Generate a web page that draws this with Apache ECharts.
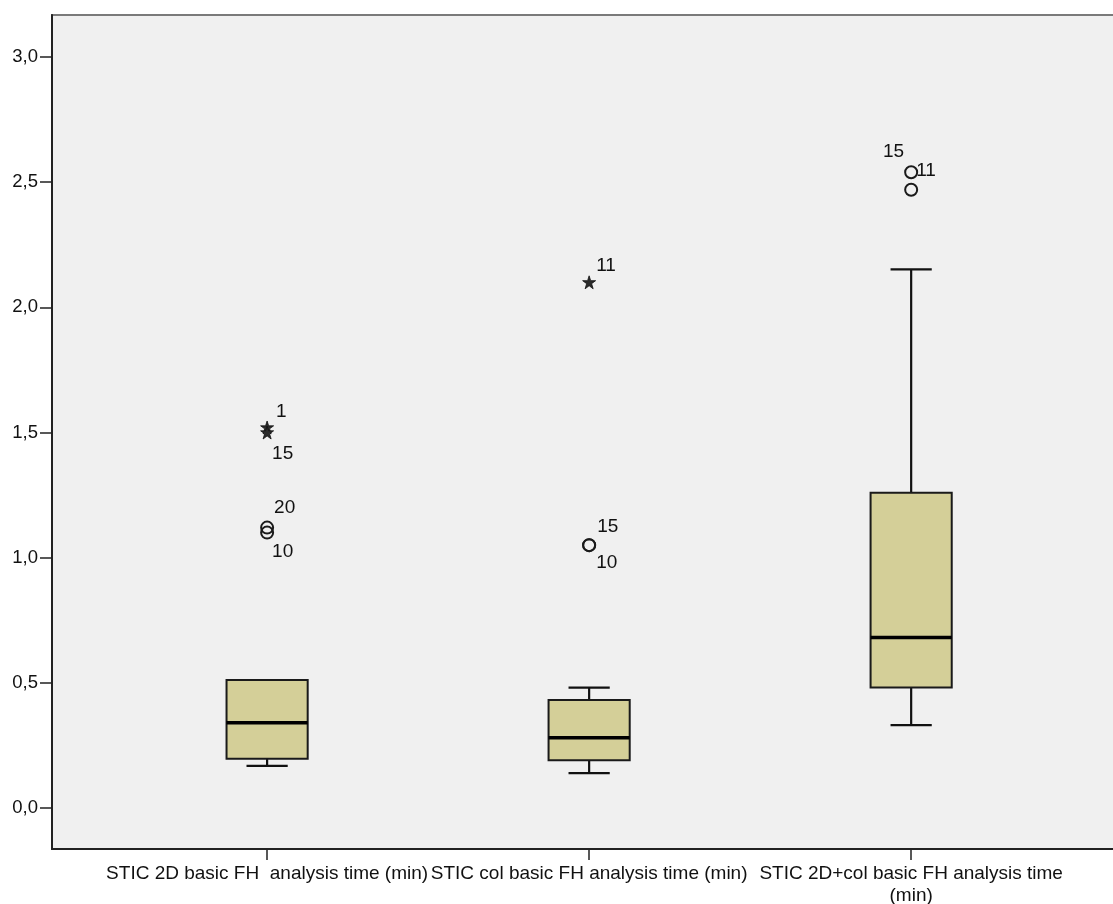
<!DOCTYPE html>
<html>
<head>
<meta charset="utf-8">
<script src="https://cdn.jsdelivr.net/npm/echarts@6/dist/echarts.min.js"></script>
<style>
html,body{margin:0;padding:0;background:#fff;}
#chart{width:1113px;height:904px;}
</style>
</head>
<body>
<div id="chart"></div>
<script>
// ---- data ----
const categories = [
  'STIC 2D basic FH  analysis time (min)',
  'STIC col basic FH analysis time (min)',
  'STIC 2D+col basic FH analysis time\n(min)'
];
const categoryPos = [1, 2, 3];
const whiskerLow  = [0.168, 0.139, 0.331];
const q1          = [0.197, 0.191, 0.481];
const median      = [0.340, 0.280, 0.681];
const q3          = [0.511, 0.431, 1.259];
const whiskerHigh = [0.511, 0.481, 2.152];

// outliers (circles)
const outlierCat   = [1, 1, 2, 2, 3, 3];
const outlierValue = [1.12, 1.10, 1.05, 1.05, 2.54, 2.47];
const outlierCase  = ['20', '10', '15', '10', '15', '11'];
// extremes (stars)
const extremeCat   = [1, 1, 2];
const extremeValue = [1.52, 1.50, 2.10];
const extremeCase  = ['1', '15', '11'];

const yTicks = [0, 0.5, 1.0, 1.5, 2.0, 2.5, 3.0];

// ---- label placement (layout only) ----
const outlierLabelPlace = [
  {dx: 7, dy: -20, align: 'left'},
  {dx: 5, dy: 19, align: 'left'},
  {dx: 8, dy: -18, align: 'left'},
  {dx: 7, dy: 18, align: 'left'},
  {dx: -7, dy: -20, align: 'right'},
  {dx: 5, dy: -19, align: 'left'}
];
const extremeLabelPlace = [
  {dx: 9, dy: -16, align: 'left'},
  {dx: 5, dy: 21, align: 'left'},
  {dx: 7, dy: -17, align: 'left'}
];

const FONT = 'Liberation Sans, Arial, sans-serif';
const FS = 19;

const boxData = categoryPos.map((c, i) => [c, whiskerLow[i], q1[i], median[i], q3[i], whiskerHigh[i]]);

const starPath = 'path://M50,0 L61.8,35.4 L100,35.4 L69.1,57.3 L80.9,95.1 L50,72.4 L19.1,95.1 L30.9,57.3 L0,35.4 L38.2,35.4 Z';

function labelItem(v, c, text, place) {
  return {
    value: [c, v],
    label: {
      show: true,
      formatter: text,
      position: 'inside',
      align: place.align,
      verticalAlign: 'middle',
      offset: [place.dx, place.dy],
      color: '#111',
      fontSize: FS,
      fontFamily: FONT
    }
  };
}

const chart = echarts.init(document.getElementById('chart'), null, {renderer: 'canvas'});
chart.setOption({
  animation: false,
  backgroundColor: '#ffffff',
  grid: {
    left: 52, top: 15, right: -2, bottom: 55,
    outerBoundsMode: 'none',
    containLabel: false,
    show: true,
    backgroundColor: '#F0F0F0',
    borderColor: '#7a7a7a',
    borderWidth: 2
  },
  xAxis: {
    type: 'value',
    min: 0.332, max: 3.633,
    splitLine: {show: false},
    axisLine: {show: true, onZero: false, lineStyle: {color: '#222', width: 2}},
    axisTick: {show: true, length: 11, customValues: categoryPos, lineStyle: {color: '#222', width: 1.5}},
    axisLabel: {
      customValues: categoryPos,
      formatter: v => categories[Math.round(v) - 1] || '',
      margin: 14,
      color: '#111',
      fontSize: FS,
      fontFamily: FONT,
      lineHeight: 22,
      align: 'center'
    }
  },
  yAxis: {
    type: 'value',
    min: -0.164, max: 3.168,
    splitLine: {show: false},
    axisLine: {show: true, onZero: false, lineStyle: {color: '#222', width: 2}},
    axisTick: {show: true, length: 12, customValues: yTicks, lineStyle: {color: '#222', width: 1.5}},
    axisLabel: {
      customValues: yTicks,
      formatter: v => v.toFixed(1).replace('.', ','),
      margin: 14,
      color: '#111',
      fontSize: 18.5,
      fontFamily: FONT
    }
  },
  series: [
    {
      type: 'custom',
      data: boxData,
      z: 3,
      renderItem: function (params, api) {
        const x = api.value(0);
        const lo = api.coord([x, api.value(1)]);
        const b1 = api.coord([x, api.value(2)]);
        const md = api.coord([x, api.value(3)]);
        const b3 = api.coord([x, api.value(4)]);
        const hi = api.coord([x, api.value(5)]);
        const halfBox = api.size([0.252, 0])[0] / 2;
        const halfCap = api.size([0.128, 0])[0] / 2;
        const cx = lo[0];
        const lineStyle = {stroke: '#111', lineWidth: 2.2};
        const children = [];
        if (hi[1] < b3[1] - 0.5) {
          children.push({type: 'line', shape: {x1: cx, y1: b3[1], x2: cx, y2: hi[1]}, style: lineStyle});
          children.push({type: 'line', shape: {x1: cx - halfCap, y1: hi[1], x2: cx + halfCap, y2: hi[1]}, style: lineStyle});
        }
        if (lo[1] > b1[1] + 0.5) {
          children.push({type: 'line', shape: {x1: cx, y1: b1[1], x2: cx, y2: lo[1]}, style: lineStyle});
          children.push({type: 'line', shape: {x1: cx - halfCap, y1: lo[1], x2: cx + halfCap, y2: lo[1]}, style: lineStyle});
        }
        children.push({
          type: 'rect',
          shape: {x: cx - halfBox, y: b3[1], width: halfBox * 2, height: b1[1] - b3[1]},
          style: {fill: '#D4CF98', stroke: '#1a1a1a', lineWidth: 2}
        });
        children.push({type: 'line', shape: {x1: cx - halfBox, y1: md[1], x2: cx + halfBox, y2: md[1]}, style: {stroke: '#000', lineWidth: 3.5}});
        return {type: 'group', children: children};
      }
    },
    {
      type: 'scatter',
      z: 4,
      symbol: 'circle',
      symbolSize: 12,
      itemStyle: {color: 'rgba(0,0,0,0)', borderColor: '#1a1a1a', borderWidth: 2, opacity: 1},
      data: outlierValue.map((v, i) => labelItem(v, outlierCat[i], outlierCase[i], outlierLabelPlace[i]))
    },
    {
      type: 'scatter',
      z: 4,
      symbol: starPath,
      symbolSize: 13,
      itemStyle: {color: '#2a2a2a', borderColor: '#111', borderWidth: 0.8, opacity: 1},
      data: extremeValue.map((v, i) => labelItem(v, extremeCat[i], extremeCase[i], extremeLabelPlace[i]))
    }
  ]
});
</script>
</body>
</html>
